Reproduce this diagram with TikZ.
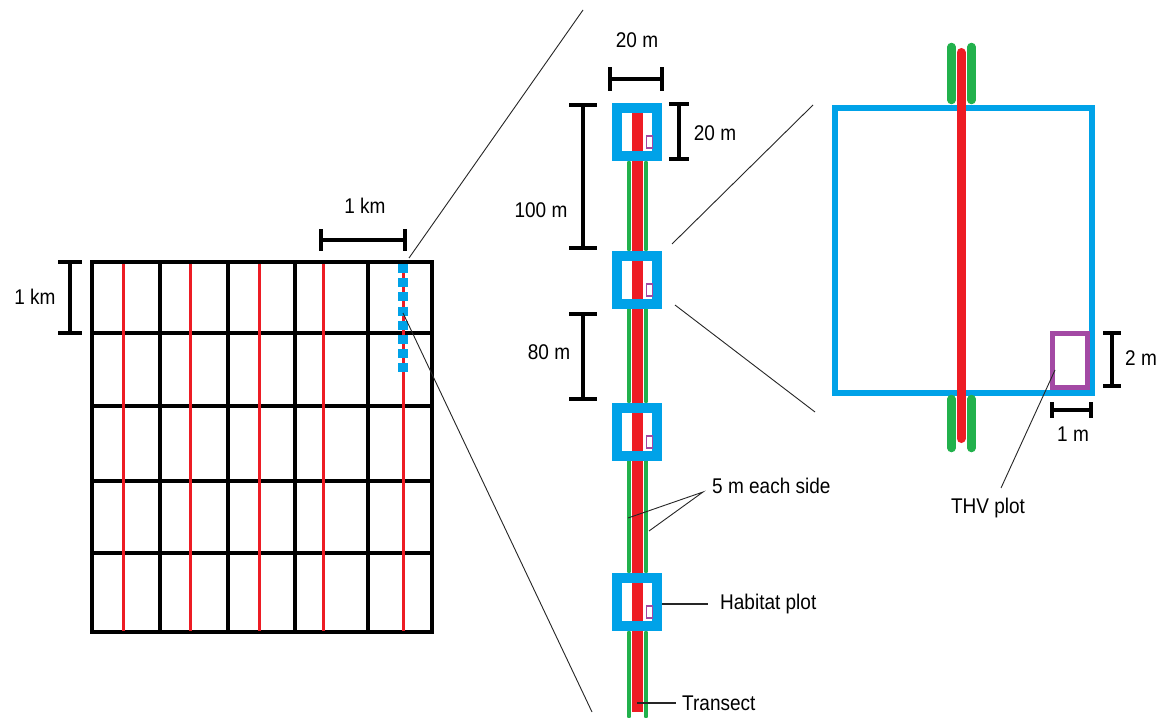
\documentclass[tikz,border=0pt]{standalone}
\usepackage{fontspec}
\setmainfont{Liberation Sans}
\usepackage{graphicx}
\definecolor{pblue}{HTML}{00A2E8}
\definecolor{pred}{HTML}{ED1C24}
\definecolor{pgreen}{HTML}{22B14C}
\definecolor{ppurple}{HTML}{A349A4}
\newcommand\tx[1]{\scalebox{1}[1.12]{#1}}
\newcommand\hscalebar[4]{\draw[sbar] (#2,#1)--(#3,#1) (#2,#1-#4)--(#2,#1+#4) (#3,#1-#4)--(#3,#1+#4);}
\newcommand\vscalebar[4]{\draw[sbar] (#1,#2)--(#1,#3) (#1-#4,#2)--(#1+#4,#2) (#1-#4,#3)--(#1+#4,#3);}
\begin{document}
\begin{tikzpicture}[x=1pt,y=-1pt,
  gridline/.style={line width=3.4pt, black},
  redline/.style={pred, line width=3pt},
  sbar/.style={line width=3.2pt, black},
  thinline/.style={line width=0.9pt, black!85},
  greenl/.style={pgreen, line width=4.8pt, line cap=round},
  greenw/.style={pgreen, line width=8.5pt, line cap=round},
  lbl/.style={font=\fontsize{19}{22}\selectfont, inner sep=0pt, text=black}]
\useasboundingbox[fill=white] (0,0) rectangle (1166,717);

% ---------- left grid ----------
\draw[gridline] (92,262) rectangle (432,632);
\foreach \x in {160,228,295,368} \draw[gridline] (\x,262)--(\x,632);
\foreach \y in {333,406,481,553} \draw[gridline] (92,\y)--(432,\y);
\foreach \x in {123,190,259,323,403} \draw[redline] (\x,264)--(\x,631);
\draw[pblue, line width=10pt, dash pattern=on 9pt off 5.2pt] (403,264)--(403,374);

\hscalebar{240}{321}{405}{11}
\vscalebar{70}{262}{333}{12}
\node[lbl] (km1) at (365,206) {\tx{1 km}};
\node[lbl] (km2) at (35,297) {\tx{1 km}};

% zoom lines (grid -> transect)
\coordinate (za1) at (409,258);
\coordinate (za2) at (583,10);
\coordinate (zb1) at (403,313);
\coordinate (zb2) at (592,712);
\draw[thinline] (za1)--(za2);
\draw[thinline] (zb1)--(zb2);

% ---------- middle transect ----------
\foreach \a/\b in {163/249,310/401,462/571,633/716}{
  \draw[greenl] (629,\a)--(629,\b);
  \draw[greenl] (646,\a)--(646,\b);
}
\draw[pred, line width=10.5pt] (637.5,113)--(637.5,712);
\foreach \t in {103,251,403,573}{
  \draw[pblue, line width=10pt] (617,\t+5) rectangle (657,\t+53);
  \draw[ppurple, line width=1.2pt] (646.5,\t+33) rectangle (652.5,\t+45);
}

\hscalebar{79}{610}{662}{12}
\vscalebar{679}{104}{159}{10}
\vscalebar{583}{105}{248}{14}
\vscalebar{583}{314}{399}{14}
\node[lbl] (m20a) at (637,40) {\tx{20 m}};
\node[lbl] (m20b) at (715,133) {\tx{20 m}};
\node[lbl] (m100) at (541,210) {\tx{100 m}};
\node[lbl] (m80) at (549,352) {\tx{80 m}};

\node[lbl, anchor=west] (side) at (712,486) {\tx{5 m each side}};
\coordinate (sidept) at (703,492);
\coordinate (gleft) at (628,518);
\coordinate (gright) at (649,531);
\draw[thinline] (gleft)--(sidept)--(gright);

\node[lbl, anchor=west] (hab) at (720,604) {\tx{Habitat plot}};
\coordinate (habpt) at (662,604);
\draw[thinline, line width=1.2pt] (habpt)--([xshift=-12pt]hab.west);

\node[lbl, anchor=west] (tran) at (682,703) {\tx{Transect}};
\coordinate (tranpt) at (637,703);
\draw[thinline, line width=1.2pt] (tranpt)--([xshift=-6pt]tran.west);

% zoom lines (transect -> plot)
\coordinate (zc1) at (672,244);
\coordinate (zc2) at (813,105);
\coordinate (zd1) at (675,305);
\coordinate (zd2) at (815,412);
\draw[thinline] (zc1)--(zc2);
\draw[thinline] (zd1)--(zd2);

% ---------- right plot ----------
\draw[pblue, line width=6pt] (835,108) rectangle (1092,393);
\draw[greenw] (951.5,47)--(951.5,100);
\draw[greenw] (971.5,47)--(971.5,100);
\draw[greenw] (951.5,399)--(951.5,448);
\draw[greenw] (971.5,399)--(971.5,448);
\draw[pred, line width=9pt, line cap=round] (961,52.5)--(961,438.5);
\draw[ppurple, line width=5pt] (1052.5,333.5) rectangle (1087.5,387.5);

\vscalebar{1112}{333}{386}{9}
\hscalebar{410}{1052}{1091}{8}
\node[lbl] (m2) at (1141,358) {\tx{2 m}};
\node[lbl] (m1) at (1073,434) {\tx{1 m}};
\node[lbl] (thv) at (988,508) {\tx{THV plot}};
\coordinate (thvpt) at (1055,370);
\coordinate (thvend) at (1001,488);
\draw[thinline] (thvpt)--(thvend);
\end{tikzpicture}
\end{document}
